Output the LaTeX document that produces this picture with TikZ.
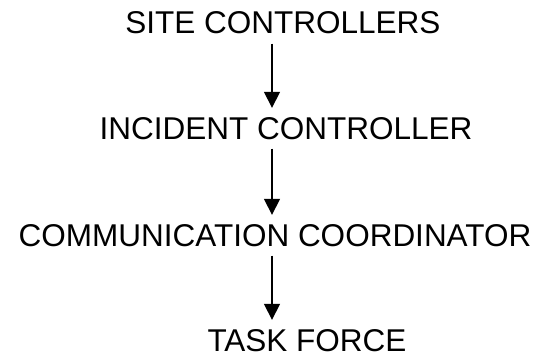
\documentclass[tikz,border=0pt]{standalone}
\usepackage{fontspec}
\setmainfont{Liberation Sans}
\usetikzlibrary{arrows.meta}

\begin{document}
\begin{tikzpicture}[x=1pt,y=1pt,
                       role node/.style={font=\fontsize{31.5}{36}\selectfont,inner sep=0pt,anchor=base},
                       flow/.style={line width=1.6pt,shorten <=9pt,shorten >=9pt,-{Triangle[width=16pt,length=16pt]}}
                      ]
  \useasboundingbox (0,0) rectangle (541,-356);
  \coordinate (axis) at (272,0);

  \node[role node] (site) at (283,-34) {SITE CONTROLLERS};
  \node[role node] (incident) at (286,-139) {INCIDENT CONTROLLER};
  \node[role node] (comm) at (275,-246) {COMMUNICATION COORDINATOR};
  \node[role node] (task) at (307,-351) {TASK FORCE};

  \draw[flow] (site.south -| axis) -- (incident.north -| axis);
  \draw[flow] (incident.south -| axis) -- (comm.north -| axis);
  \draw[flow] (comm.south -| axis) -- (task.north -| axis);
\end{tikzpicture}
\end{document}
